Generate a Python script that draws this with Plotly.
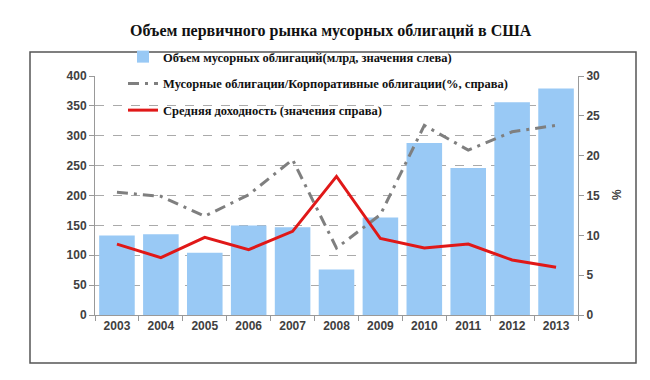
import plotly.graph_objects as go

years = ["2003", "2004", "2005", "2006", "2007", "2008", "2009", "2010", "2011", "2012", "2013"]
volume = [133, 135, 104, 150, 147, 76, 163, 288, 246, 356, 379]
junk_share = [15.4, 14.9, 12.4, 15.1, 19.5, 8.4, 12.6, 23.8, 20.7, 23.0, 23.8]
avg_yield = [8.9, 7.2, 9.75, 8.2, 10.5, 17.4, 9.6, 8.4, 8.9, 6.9, 6.0]

name_bar = "Объем мусорных облигаций(млрд, значения слева)"
name_share = "Мусорные облигации/Корпоративные облигации(%, справа)"
name_yield = "Средняя доходность (значения справа)"
title = "Объем первичного рынка мусорных облигаций в США"

fig = go.Figure()
fig.add_trace(go.Bar(x=years, y=volume, name=name_bar, marker_color="#99c9f5",
                     marker_line_width=0, legendgroup="a"))
fig.add_trace(go.Scatter(x=years, y=junk_share, name=name_share, yaxis="y2", mode="lines",
                         line=dict(color="#7f7f7f", width=3, dash="11px,6px,3px,6px"),
                         legendgroup="b"))
fig.add_trace(go.Scatter(x=years, y=avg_yield, name=name_yield, yaxis="y2", mode="lines",
                         line=dict(color="#e01818", width=3), legendgroup="c"))

L, R, T, B = 87, 570, 68, 307
W, H = R - L, B - T

def px(x):
    return (x - L) / W

def py(y):
    return (B - y) / H

tickfont = dict(family="Liberation Sans", size=12, color="#404040", weight="bold")

fig.update_layout(
    width=650, height=380,
    margin=dict(l=L, r=650 - R, t=T, b=380 - B),
    paper_bgcolor="white", plot_bgcolor="white",
    bargap=0.19,
    showlegend=True,
    legend=dict(x=px(115), y=py(34), xanchor="left", yanchor="top",
                bgcolor="rgba(0,0,0,0)", traceorder="grouped", tracegroupgap=7.5,
                font=dict(family="Liberation Serif", size=12.5, color="#111", weight="bold"),
                itemwidth=30),
    xaxis=dict(type="category", showgrid=False, showline=True, linecolor="#999", linewidth=1,
               ticks="outside", tickson="boundaries", ticklen=5, tickcolor="#999",
               tickfont=tickfont),
    yaxis=dict(range=[0, 400], dtick=50, showgrid=True, gridcolor="#aaaaaa", griddash="dash",
               gridwidth=1, showline=True, linecolor="#999", ticks="outside", ticklen=5,
               tickcolor="#999", tickfont=tickfont, zeroline=False),
    yaxis2=dict(range=[0, 30], dtick=5, overlaying="y", side="right", showgrid=False,
                showline=True, linecolor="#999", ticks="outside", ticklen=5, tickcolor="#999",
                tickfont=tickfont, zeroline=False),
)

fig.add_annotation(text="<b>" + title + "</b>", xref="paper", yref="paper",
                   x=px(323), y=py(23), xanchor="center", yanchor="middle", showarrow=False,
                   font=dict(family="Liberation Serif", size=16, color="#111"))

fig.add_shape(type="rect", xref="paper", yref="paper",
              x0=px(22), x1=px(628), y0=py(355), y1=py(44),
              line=dict(color="#555", width=1.5), fillcolor="rgba(0,0,0,0)", layer="below")

fig.add_annotation(text="%", xref="paper", yref="paper", x=px(609), y=py(187),
                   xanchor="center", yanchor="middle",
                   showarrow=False, textangle=-90,
                   font=dict(family="Liberation Sans", size=12, color="#404040", weight="bold"))

fig.write_html("out.html")
